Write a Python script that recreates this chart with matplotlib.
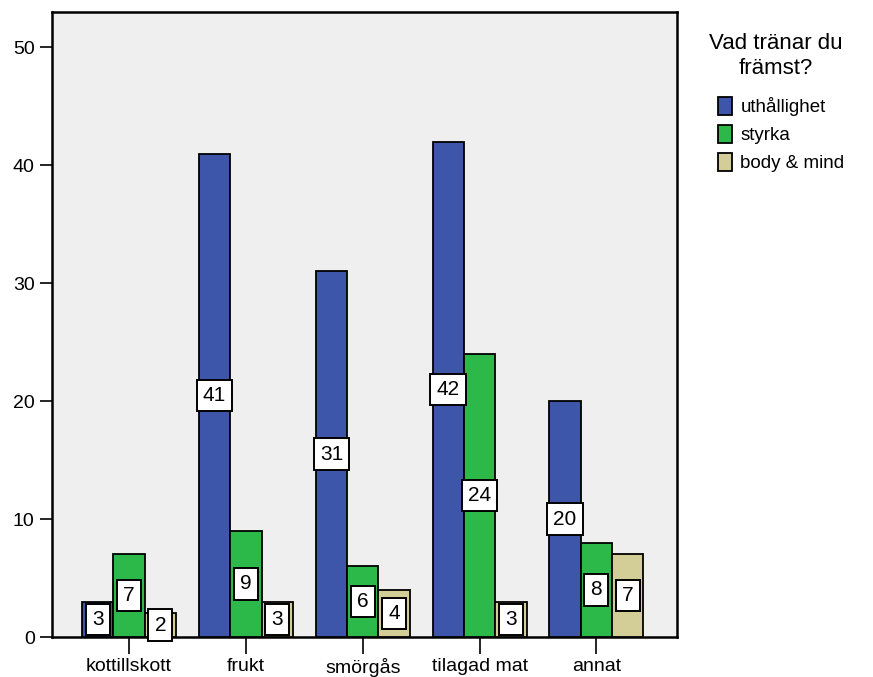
import matplotlib
matplotlib.use("Agg")
import matplotlib.pyplot as plt
import numpy as np
from matplotlib.patches import Patch

plt.rcParams['font.family'] = ['Liberation Sans', 'DejaVu Sans']

categories = ["kottillskott", "frukt", "smörgås", "tilagad mat", "annat"]
series_names = ["uthållighet", "styrka", "body & mind"]
uthallighet = [3, 41, 31, 42, 20]
styrka = [7, 9, 6, 24, 8]
body_mind = [2, 3, 4, 3, 7]
series_values = [uthallighet, styrka, body_mind]
colors = ["#3D56AA", "#2DB84A", "#D3CD98"]
yticks = [0, 10, 20, 30, 40, 50]

fig = plt.figure(figsize=(8.73, 6.77), dpi=100)
ax = fig.add_axes([52/873, 1-637/677, (677-52)/873, (637-12)/677])
ax.set_facecolor("#EFEFEF")

x = np.arange(len(categories))
w = 0.268
for i, (vals, c) in enumerate(zip(series_values, colors)):
    pos = x + (i - 1) * w
    ax.bar(pos, vals, width=w, color=c, edgecolor="black", linewidth=1.3, zorder=3)
    for p, v in zip(pos, vals):
        ax.text(p, v / 2, str(v), ha="center", va="center", fontsize=15, zorder=5,
                bbox=dict(boxstyle="square,pad=0.3", fc="white", ec="black", lw=1.4))

ax.set_xlim(-0.66, 4.69)
ax.set_ylim(0, 53)
ax.set_yticks(yticks)
ax.set_yticklabels([str(t) for t in yticks], fontsize=14)
ax.set_xticks(x)
ax.set_xticklabels(categories, fontsize=14)
ax.tick_params(axis="both", direction="out", length=9, width=1.2, colors="black")
ax.tick_params(axis="x", length=12, pad=3)
for s in ax.spines.values():
    s.set_linewidth(1.8)
    s.set_color("black")

fig.text(776/873, 1-56/677, "Vad tränar du\nfrämst?", ha="center", va="center",
         fontsize=16, multialignment="center", linespacing=1.25)

handles = [Patch(facecolor=c, edgecolor="black", linewidth=1.3) for c in colors]
leg = fig.legend(handles, series_names,
                 loc="upper left", bbox_to_anchor=(718/873, 1-97/677),
                 frameon=False, fontsize=13.5,
                 handlelength=0.75, handleheight=1.1, handletextpad=0.45,
                 labelspacing=0.45, borderaxespad=0, borderpad=0)

fig.savefig("out.png", dpi=100)
